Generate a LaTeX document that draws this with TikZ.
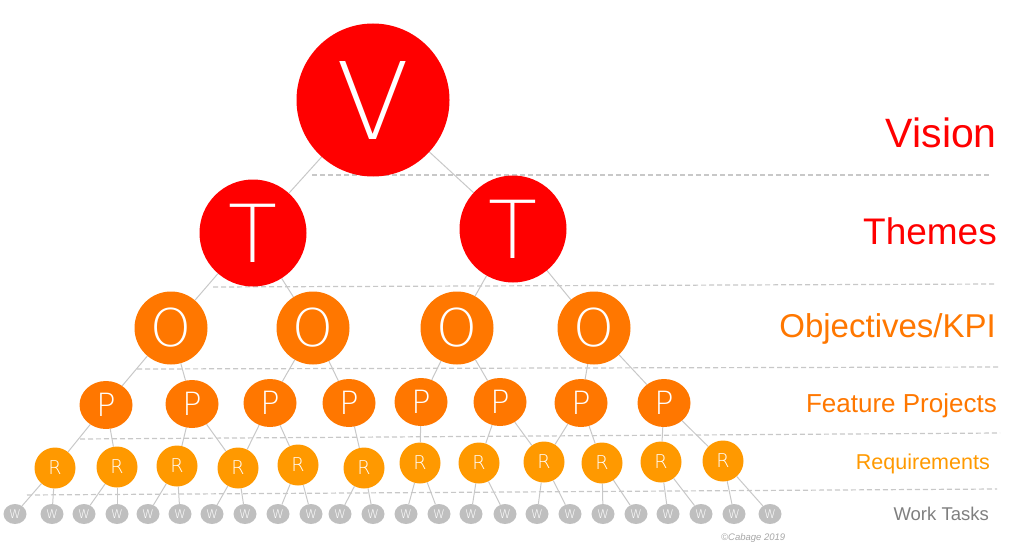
\documentclass[tikz,border=0pt]{standalone}
\usepackage{fontspec}
\setmainfont{Liberation Sans}
\newfontfamily\thinfont{DejaVu Sans ExtraLight}
\usetikzlibrary{shapes.geometric, backgrounds}

\definecolor{visred}{HTML}{FF0000}
\definecolor{objorange}{HTML}{FF7700}
\definecolor{reqorange}{HTML}{FF9900}
\definecolor{taskgray}{HTML}{BFBFBF}
\definecolor{linegray}{HTML}{C8C8C8}
\definecolor{labelgray}{HTML}{7F7F7F}

\tikzset{
  lvl/.style={inner sep=0pt, text=white},
  vnode/.style={lvl, circle, fill=visred, minimum size=153pt, font=\thinfont\fontsize{107}{107}\selectfont},
  tnode/.style={lvl, circle, fill=visred, minimum size=107pt, font=\thinfont\fontsize{80}{80}\selectfont},
  onode/.style={lvl, circle, fill=objorange, minimum size=73pt, font=\thinfont\fontsize{52}{52}\selectfont},
  pnode/.style={lvl, ellipse, fill=objorange, minimum width=53pt, minimum height=48pt, font=\thinfont\fontsize{32}{32}\selectfont},
  rnode/.style={lvl, circle, fill=reqorange, minimum size=41pt, font=\thinfont\fontsize{19}{19}\selectfont},
  wnode/.style={lvl, ellipse, fill=taskgray, minimum width=23pt, minimum height=20pt, font=\thinfont\fontsize{12}{12}\selectfont},
  edge/.style={draw=linegray, line width=1pt},
  sep/.style={draw=linegray, line width=1.2pt, dash pattern=on 5pt off 3pt},
  lbl/.style={anchor=base east, inner sep=0pt}
}

\begin{document}
\begin{tikzpicture}[x=1pt, y=-1pt]
  \useasboundingbox (0,0) rectangle (1024,548);

  % Vision and themes
  \node[vnode] (V) at (373,100) {V};
  \node[tnode] (T1) at (253,233) {T};
  \node[tnode] (T2) at (513,229) {T};

  % Objectives
  \foreach \x [count=\i] in {171,313,457,594}
    \node[onode] (O\i) at (\x,328) {O};

  % Feature projects
  \foreach \x/\y [count=\i] in {106/405,192/404,270/403,349/403,421/402,500/402,581/403,664/403}
    \node[pnode] (P\i) at (\x,\y) {P};

  % Requirements
  \foreach \x/\y [count=\i] in {55/468,117/467,177/466,238/468,298/465,364/468,420/463,479/463,544/462,602/463,661/462,723/461}
    \node[rnode] (R\i) at (\x,\y) {R};

  % Work tasks
  \foreach \x [count=\i] in {15,52,84,117,148,180,212,245,278,311,340,373,406,439,471,505,537,570,603,636,668,701,734,770}
    \node[wnode] (W\i) at (\x,514) {W};

  % Level names
  \node[lbl, text=visred, font=\fontsize{41}{41}\selectfont] (vision) at (997,148) {Vision};
  \node[lbl, text=visred, font=\fontsize{37}{37}\selectfont] (themes) at (997,244) {Themes};
  \node[lbl, text=objorange, font=\fontsize{33}{33}\selectfont] (objectives) at (996,337) {Objectives/KPI};
  \node[lbl, text=objorange, font=\fontsize{26}{26}\selectfont] (features) at (997,412) {Feature Projects};
  \node[lbl, text=reqorange, font=\fontsize{21.5}{21.5}\selectfont] (requirements) at (990,469) {Requirements};
  \node[lbl, text=labelgray, font=\fontsize{18.5}{18.5}\selectfont] (tasks) at (989,520) {Work Tasks};
  \node[anchor=base west, inner sep=0pt, text=black!35, font=\itshape\fontsize{9.5}{9.5}\selectfont] (copy) at (721,540) {\textcopyright Cabage 2019};

  % Tree connectors, behind the circles
  \begin{pgfonlayer}{background}
    \foreach \a/\b in {V/T1,V/T2,T1/O1,T1/O2,T2/O3,T2/O4,O1/P1,O1/P2,O2/P3,O2/P4,O3/P5,O3/P6,O4/P7,O4/P8,
                       P1/R1,P1/R2,P2/R3,P2/R4,P3/R4,P3/R5,P4/R6,P5/R7,P6/R8,P6/R9,P7/R9,P7/R10,P8/R11,P8/R12}
      \draw[edge] (\a) -- (\b);
    \foreach \i in {1,...,12} {
      \pgfmathtruncatemacro{\wa}{2*\i-1}
      \pgfmathtruncatemacro{\wb}{2*\i}
      \draw[edge] (R\i) -- (W\wa);
      \draw[edge] (R\i) -- (W\wb);
    }
    % level separators
    \draw[sep] (312,175) -- (990,175);
    \draw[sep] (213,287) -- (996,284);
    \draw[sep] (137,369) -- (1000,367);
    \draw[sep] (80,439) -- (1000,433);
    \draw[sep] (27,495) -- (997,489);
  \end{pgfonlayer}
\end{tikzpicture}
\end{document}
